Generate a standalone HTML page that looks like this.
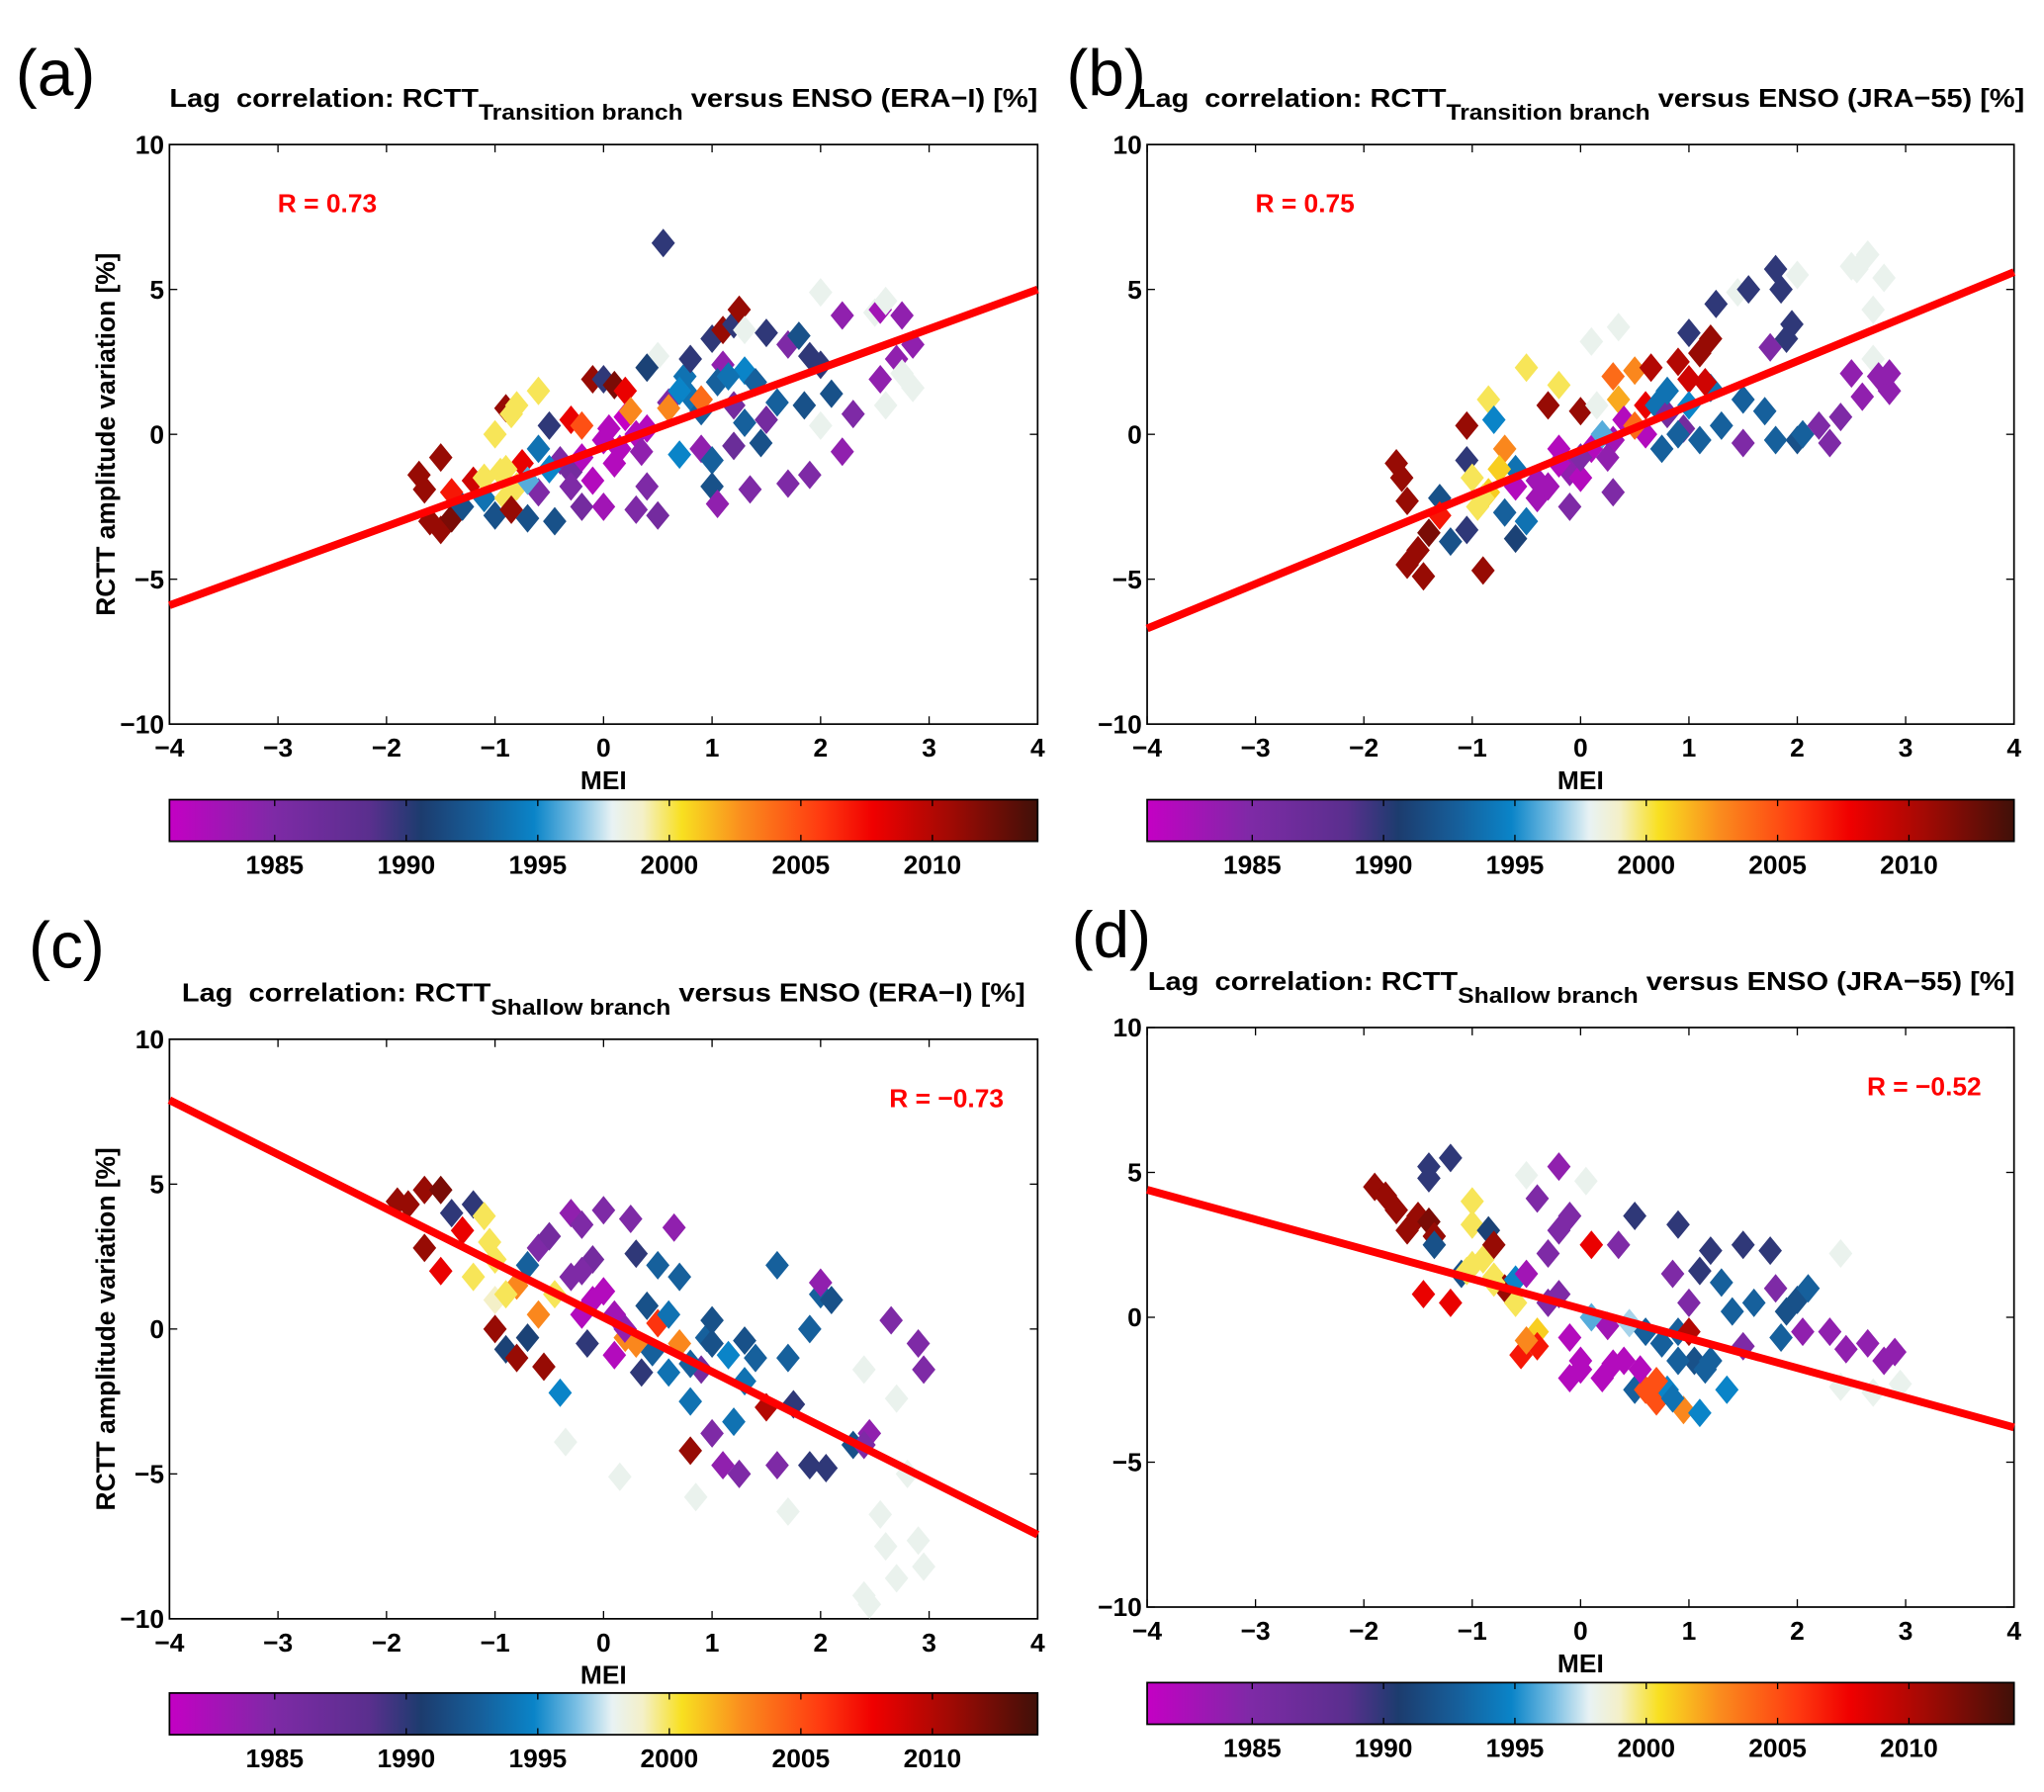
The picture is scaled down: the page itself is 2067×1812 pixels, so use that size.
<!DOCTYPE html>
<html><head><meta charset="utf-8"><style>
html,body{margin:0;padding:0;background:#fff}
svg{display:block}
text{font-family:"Liberation Sans",sans-serif}
</style></head><body>
<svg id="fig" width="2067" height="1812" viewBox="0 0 1568 1376" preserveAspectRatio="none" xmlns="http://www.w3.org/2000/svg">
<defs>
<linearGradient id="cmap" x1="0" x2="1" y1="0" y2="0">
<stop offset="0" stop-color="#c400c4"/>
<stop offset="0.12" stop-color="#7e2aa6"/>
<stop offset="0.23" stop-color="#5a2f8e"/>
<stop offset="0.29" stop-color="#1c3c6e"/>
<stop offset="0.36" stop-color="#16609c"/>
<stop offset="0.42" stop-color="#0a84c8"/>
<stop offset="0.47" stop-color="#7cc0e4"/>
<stop offset="0.51" stop-color="#e8f2f4"/>
<stop offset="0.545" stop-color="#f4f0c8"/>
<stop offset="0.59" stop-color="#f8e020"/>
<stop offset="0.66" stop-color="#fa8c1e"/>
<stop offset="0.75" stop-color="#ff3a10"/>
<stop offset="0.81" stop-color="#f00000"/>
<stop offset="0.9" stop-color="#a00a04"/>
<stop offset="1" stop-color="#401008"/>
</linearGradient>
</defs>
</svg>
<script>
// ---- data ----
const xTicks=[-4,-3,-2,-1,0,1,2,3,4];
const yTicks=[-10,-5,0,5,10];
const cbTicks=[1985,1990,1995,2000,2005,2010];
const rValues=["0.73","0.75","\u22120.73","\u22120.52"];
const fitA=[-5.9,5.0], fitB=[-6.7,5.6], fitC=[7.9,-7.1], fitD=[4.4,-3.8];

const meiA=[-1.7,-1.65,-1.5,-1.6,-1.5,-1.4,-1.3,-1.2,-1.1,-1.0,-0.9,-1.0,-0.85,-0.8,-0.6,-0.95,-0.8,-0.9,-0.7,-0.85,-0.75,-0.5,-0.3,-0.4,-0.3,-0.2,-0.45,-0.6,-0.1,0.0,0.1,0.2,0.05,0.15,0.3,-0.1,0.0,0.3,0.5,0.4,0.6,0.5,0.55,0.4,0.75,0.8,0.8,0.9,1.0,1.1,1.2,1.25,1.3,1.1,1.05,1.2,1.2,1.0,1.0,1.05,1.5,1.3,1.5,1.45,1.35,1.7,1.8,1.9,2.0,1.6,1.85,1.7,1.9,2.1,2.0,2.2,2.0,2.3,2.2,2.5,2.55,2.6,2.75,2.85,2.7,2.55,2.6,2.75,2.85,-1.4,-0.6,0.2,0.4,0.7,0.6,-0.2,-1.1,-0.9,-0.7,-0.3,-0.2,0.1,0.25,0.35,0.7,0.9,1.15,1.4,-0.5,0.0,0.9,1.3];
const valA=[-1.4,-1.9,-0.8,-3.0,-3.3,-2.9,-2.5,-1.6,-2.2,-2.8,0.9,0.0,0.7,1.0,1.5,-1.3,-1.8,-2.2,-2.9,-2.6,-1.0,0.3,0.5,-0.9,-1.3,-2.5,-3.0,-2.0,1.9,1.9,1.7,1.5,0.2,-0.5,0.0,-1.6,-2.5,-2.6,-2.8,-1.8,1.1,2.7,6.6,2.3,2.0,2.6,1.3,-0.5,3.3,3.6,3.8,4.3,3.6,2.4,1.8,1.0,-0.4,-0.9,-1.8,-2.4,3.5,2.2,0.5,-0.3,-1.9,3.1,3.4,2.7,2.4,1.1,1.0,-1.7,-1.4,1.4,4.9,4.1,0.3,0.7,-0.6,4.2,4.3,4.6,4.1,3.1,2.6,1.9,1.0,2.1,1.6,-2.0,-0.5,0.6,0.2,-0.7,0.9,0.3,-1.5,-1.2,-1.6,-1.8,-0.8,-1.0,0.8,-0.6,1.5,0.8,2.0,1.8,-1.2,-0.2,1.2,0.4];
const yearA=[2011,2011,2011,2011,2011,2012,1992,2009,1994,1992,2011,2000,2000,2000,2000,2000,2000,2000,1992,2011,2008,1990,2008,1985,1986,1986,1992,1985,2011,1990,2012,2008,1982,1982,1982,1982,1983,1985,1986,1985,1985,1998,1990,1991,1994,1990,1994,1984,1990,2011,1990,2011,1998,1984,1993,1986,1987,1993,1992,1984,1990,1995,1986,1992,1985,1985,1992,1990,1990,1993,1992,1985,1985,1992,1998,1984,1998,1985,1984,1998,1983,1998,1984,1984,1984,1984,1998,1998,1998,2007,1994,1981,1982,1995,2003,2005,2000,2000,1996,1985,1982,1982,2003,1984,1995,1993,1994,1993,1995,1982,2004,1993];

const meiB=[-1.7,-1.65,-1.6,-1.6,-1.45,-1.5,-1.4,-1.3,-1.2,-1.05,-1.05,-1.05,-0.9,-1.0,-0.95,-0.85,-0.7,-0.6,-0.6,-0.5,-0.85,-0.8,-0.7,-0.5,-0.4,-0.3,-0.2,-0.2,-0.1,-0.1,0.0,0.0,0.1,0.1,0.15,0.3,0.35,0.3,0.3,0.35,0.5,0.6,0.6,0.65,0.7,0.75,0.8,0.9,0.95,1.0,1.0,1.1,1.1,1.2,1.2,1.25,1.3,1.45,1.5,1.5,1.55,1.7,1.75,1.8,1.85,1.9,1.95,2.0,2.0,1.8,2.05,2.2,2.3,2.4,2.5,2.55,2.65,2.7,2.8,2.7,2.5,2.6,2.75,2.85,2.85,-1.3,-0.3,-0.9,-0.6,-0.4,-0.2,0.0,0.2,0.4,0.5,0.8,1.0,1.15,-0.75,0.25,0.9];
const valB=[-1.0,-1.5,-2.3,-4.5,-4.9,-4.0,-3.4,-2.2,-3.7,-3.3,-0.9,0.3,-4.7,-1.5,-2.5,-2.0,-2.7,-3.6,-1.2,2.3,1.2,0.5,-0.5,-3.0,-2.2,1.0,1.7,-0.5,-1.3,-2.5,0.8,-1.5,-0.5,3.2,1.0,2.0,1.2,-0.2,-2.0,3.7,2.2,1.0,0.0,2.3,1.0,-0.5,0.7,2.5,0.2,1.9,3.5,2.8,-0.2,3.3,1.6,4.5,0.3,4.9,1.2,-0.3,5.0,0.8,3.0,5.7,5.0,3.3,3.8,5.5,-0.2,-0.2,0.0,0.3,-0.3,0.6,5.8,5.7,6.2,4.3,5.4,2.6,2.1,1.3,2.0,1.5,2.1,-2.8,-1.8,-2.2,-1.8,-1.6,-1.0,-0.8,0.0,0.5,0.3,1.5,1.0,1.8,-1.2,-0.8,0.0];
const yearB=[2011,2011,2011,2011,2011,2011,2012,1992,1992,1990,1990,2011,2011,2000,2000,2001,1993,1991,1994,2000,2000,1995,2003,1994,1983,2011,2000,1982,1984,1985,2011,1982,1982,1998,1998,2004,2002,1983,1985,1998,2003,2008,1982,2010,1994,1993,1986,2010,1986,2009,1990,2011,1993,2011,1994,1990,1993,1998,1993,1985,1990,1993,1985,1990,1990,1990,1990,1998,1992,1993,1993,1985,1985,1985,1998,1998,1998,1998,1998,1998,1984,1984,1984,1984,1984,2007,1983,2000,1982,1983,1982,1985,1996,1982,2004,1994,1995,2009,2001,1984,1993];

const meiC=[-1.9,-1.8,-1.65,-1.5,-1.65,-1.5,-1.4,-1.2,-1.1,-1.05,-1.0,-1.2,-1.3,-1.0,-0.9,-1.0,-0.8,-0.7,-0.7,-0.6,-0.5,-0.45,-0.4,-0.55,-0.35,-0.3,-0.2,-0.2,-0.15,-0.1,0.0,0.0,0.1,0.15,0.2,0.25,0.3,0.35,0.4,0.5,0.6,0.65,0.7,0.7,0.8,0.8,0.85,0.9,0.95,1.0,1.0,1.1,1.15,1.2,1.25,1.3,1.4,1.5,1.6,1.6,1.7,1.75,1.7,1.9,2.0,2.0,1.9,2.05,2.1,2.3,2.45,2.4,2.4,2.45,2.55,2.6,2.7,2.7,2.65,2.4,2.8,2.9,2.95,2.9,2.95,-0.8,0.5,0.1,-0.9,-0.6,-0.3,-0.1,0.2,0.45,0.6,0.8,1.0,1.3,0.3,-0.2];
const valC=[4.4,4.3,4.8,4.8,2.8,2.0,4.0,4.3,3.9,3.0,2.4,1.8,3.4,1.0,-0.7,0.0,-1.0,-0.3,2.2,2.8,3.2,1.2,-2.2,-1.3,-3.9,4.0,3.6,0.5,-0.5,2.4,4.1,1.3,-0.9,-5.1,-0.3,3.8,2.6,-1.5,0.8,2.2,-1.5,3.5,1.8,-0.5,-2.5,-4.2,-5.8,-1.4,-0.3,-3.6,0.3,-4.7,-0.9,-3.2,-5.0,-0.4,-1.0,-2.7,-4.7,2.2,-1.0,-2.6,-6.3,0.0,1.2,1.6,-4.7,-4.8,1.0,-4.0,-3.6,-4.0,-9.2,-9.5,-6.4,-7.5,-8.6,-2.4,0.3,-1.4,-5.0,-7.3,-8.2,-0.5,-1.4,1.5,0.2,0.5,1.2,0.5,1.8,1.0,0.0,-0.8,0.5,-1.2,-0.5,-1.8,-0.5,2.0];
const yearC=[2011,2011,2011,2012,2011,2008,1990,1990,2000,2000,2000,2000,2008,1999,1991,2011,2011,1991,1993,1985,1986,2000,1995,2011,1998,1984,1985,1982,1990,1986,1985,1982,1982,1998,2003,1985,1990,1990,1992,1993,1994,1984,1993,2003,1994,2011,1998,1986,1993,1985,1992,1984,1995,1994,1985,1992,1993,2010,1985,1993,1993,1990,1998,1993,1993,1984,1990,1990,1992,1992,1984,1985,1998,1998,1998,1998,1998,1998,1985,1998,1998,1998,1998,1985,1985,2003,2006,1983,2000,2003,1985,1982,1984,1993,1994,1993,1992,1994,2003,1985];

const meiD=[-1.9,-1.8,-1.7,-1.6,-1.5,-1.4,-1.35,-1.4,-1.4,-1.2,-1.35,-1.45,-1.2,-1.1,-1.0,-1.0,-0.9,-1.05,-0.8,-0.85,-0.8,-0.7,-0.6,-0.5,-0.5,-0.4,-0.3,-0.3,-0.4,-0.2,-0.2,-0.1,-0.55,-0.4,-0.1,-0.1,0.0,0.05,0.1,0.1,0.2,0.35,0.4,0.45,0.5,0.5,0.6,0.6,0.7,0.75,0.8,0.85,0.9,0.9,0.95,1.0,1.05,1.1,1.1,1.2,1.2,1.3,1.35,1.4,1.5,1.5,1.6,1.75,1.8,1.85,1.9,2.0,2.05,2.1,2.3,2.4,2.45,2.4,2.65,2.7,2.8,2.9,2.95,1.0,-0.5,-1.0,-0.8,-0.2,0.0,0.3,0.55,0.7,0.9,0.85,1.15,-0.6,0.25];
const valD=[4.5,4.2,3.7,3.0,3.5,3.3,2.8,5.2,4.8,5.5,2.5,0.8,0.5,1.5,4.0,3.2,2.0,1.6,1.4,3.0,2.5,1.0,1.3,4.9,1.5,4.1,2.2,0.5,-0.5,5.2,3.0,3.5,-1.3,-1.0,-0.7,-2.1,-1.5,4.7,2.5,0.0,-2.1,2.5,-1.5,-0.2,3.5,-2.5,-0.5,-2.5,-2.9,-0.9,-2.5,1.5,3.2,-0.5,-3.2,0.5,-1.5,-3.3,1.6,2.3,-1.5,1.2,-2.5,0.2,2.5,-1.0,0.5,2.3,1.0,-0.7,0.2,0.6,-0.5,1.0,-0.5,2.2,-1.1,-2.4,-0.9,-2.6,-1.5,-1.2,-2.3,-0.5,-0.8,1.8,1.2,0.8,-1.8,-1.6,-1.8,-2.2,-1.5,-2.8,-1.8,0.5,-0.3];
const yearD=[2011,2011,2011,2011,2011,2012,2011,1990,1990,1990,1992,2008,2008,1992,2000,2000,2000,2000,2000,1991,2011,2011,1995,1998,1983,1985,1985,1985,2001,1984,1985,1985,2007,2007,1982,1982,1982,1998,2008,1996,1982,1985,1982,1997,1990,1993,1993,2005,2005,1993,1995,1985,1990,1993,2003,1985,1992,1995,1990,1990,1993,1993,1995,1993,1990,1985,1993,1990,1985,1993,1992,1992,1984,1993,1984,1998,1984,1998,1984,1998,1984,1984,1998,2010,2003,2000,2000,1985,1982,1982,1982,2005,1993,1994,1993,2000,1983];

// ---- colormap ----
const cstops=[[1981,[196,0,196]],[1985,[126,42,166]],[1988.6,[90,47,142]],[1990.6,[28,60,110]],[1993,[22,96,156]],[1995,[10,132,200]],[1996.5,[124,192,228]],[1997.8,[232,242,244]],[1999,[244,240,200]],[2000.5,[248,224,32]],[2002.8,[250,140,30]],[2005.8,[255,58,16]],[2007.8,[240,0,0]],[2010.7,[160,10,4]],[2014,[64,16,8]]];
function ycol(y){
  for(let i=0;i<cstops.length-1;i++){const a=cstops[i],b=cstops[i+1];
    if(y<=b[0]){const t=Math.max(0,(y-a[0])/(b[0]-a[0]));
      return 'rgb('+a[1].map((v,k)=>Math.round(v+(b[1][k]-v)*t)).join(',')+')';}}
  return 'rgb(64,16,8)';
}
const svg=document.getElementById('fig');
const NS='http://www.w3.org/2000/svg';
function el(tag,attrs,parent,txt){const e=document.createElementNS(NS,tag);for(const k in attrs)e.setAttribute(k,attrs[k]);if(txt!==undefined)e.textContent=txt;(parent||svg).appendChild(e);return e;}

const panels=[
 {id:'a',x0:130,x1:796,y0:111,y1:556,mei:meiA,val:valA,year:yearA,fit:fitA,r:rValues[0],rx:213,ry:163,rAnchor:'start',sub:'Transition branch',ds:'ERA\u2212I',tx:463,tw:666,ty:82,lx:12,ly:60,cbY:614,ylab:true},
 {id:'b',x0:880,x1:1545,y0:111,y1:556,mei:meiB,val:valB,year:yearB,fit:fitB,r:rValues[1],rx:963,ry:163,rAnchor:'start',sub:'Transition branch',ds:'JRA\u221255',tx:1213,tw:680,ty:82,lx:818,ly:60,cbY:614,ylab:false},
 {id:'c',x0:130,x1:796,y0:798,y1:1243,mei:meiC,val:valC,year:yearC,fit:fitC,r:rValues[2],rx:770,ry:850,rAnchor:'end',sub:'Shallow branch',ds:'ERA\u2212I',tx:463,tw:647,ty:769,lx:22,ly:730,cbY:1300,ylab:true},
 {id:'d',x0:880,x1:1545,y0:789,y1:1234,mei:meiD,val:valD,year:yearD,fit:fitD,r:rValues[3],rx:1520,ry:841,rAnchor:'end',sub:'Shallow branch',ds:'JRA\u221255',tx:1213,tw:665,ty:760,lx:822,ly:722,cbY:1292,ylab:false}
];

panels.forEach(p=>{
  const g=el('g',{});
  
  
  const sx=v=>p.x0+(v+4)/8*(p.x1-p.x0);
  const sy=v=>p.y1-(v+10)/20*(p.y1-p.y0);
  const pl=el('text',{x:p.lx,y:p.ly,'font-size':50,fill:'#000','dominant-baseline':'middle'},g,'('+p.id+')');
  
  
  const t=el('text',{x:p.tx,y:p.ty,'font-size':20,'font-weight':'bold','text-anchor':'middle',fill:'#000',textLength:p.tw,lengthAdjust:'spacingAndGlyphs','xml:space':'preserve'},g);
  
  
  el('tspan',{},t,'Lag\u00a0\u00a0correlation: RCTT');
  el('tspan',{dy:10,'font-size':17},t,p.sub);
  el('tspan',{dy:-10},t,' versus ENSO ('+p.ds+') [%]');
  const box=el('rect',{x:p.x0,y:p.y0,width:p.x1-p.x0,height:p.y1-p.y0,fill:'#fff',stroke:'#000','stroke-width':1.3},g);
  
  
  xTicks.forEach(v=>{
    const x=sx(v);
    el('line',{x1:x,x2:x,y1:p.y1,y2:p.y1-6,stroke:'#000','stroke-width':1},g);
    el('line',{x1:x,x2:x,y1:p.y0,y2:p.y0+6,stroke:'#000','stroke-width':1},g);
    const tl=el('text',{x:x,y:p.y1+25,'font-size':20,'font-weight':'bold','text-anchor':'middle'},g,v<0?'\u2212'+(-v):String(v));
    
    
  });
  yTicks.forEach(v=>{
    const y=sy(v);
    el('line',{x1:p.x0,x2:p.x0+6,y1:y,y2:y,stroke:'#000','stroke-width':1},g);
    el('line',{x1:p.x1,x2:p.x1-6,y1:y,y2:y,stroke:'#000','stroke-width':1},g);
    const tl=el('text',{x:p.x0-4,y:y+7,'font-size':20,'font-weight':'bold','text-anchor':'end'},g,v<0?'\u2212'+(-v):String(v));
    
    
  });
  const xl=el('text',{x:(p.x0+p.x1)/2,y:p.y1+50,'font-size':20,'font-weight':'bold','text-anchor':'middle'},g,'MEI');
  
  
  if(p.ylab){
    const cy=(p.y0+p.y1)/2;
    const yl=el('text',{x:88,y:cy,'font-size':20,'font-weight':'bold','text-anchor':'middle',transform:'rotate(-90 88 '+cy+')'},g,'RCTT amplitude variation [%]');
    
    
  }
  p.mei.forEach((m,i)=>{
    const x=sx(m),y=sy(p.val[i]);
    const d=el('path',{d:'M'+x+' '+(y-11)+'L'+(x+9)+' '+y+'L'+x+' '+(y+11)+'L'+(x-9)+' '+y+'Z',fill:ycol(p.year[i])},g);
    
    
  });
  const ln=el('line',{x1:sx(-4),y1:sy(p.fit[0]),x2:sx(4),y2:sy(p.fit[1]),stroke:'#f00','stroke-width':6},g);
  
  
  const rt=el('text',{x:p.rx,y:p.ry,'font-size':20,'font-weight':'bold',fill:'#f00','text-anchor':p.rAnchor},g,'R = '+p.r);
  
  
  const cb=el('rect',{x:p.x0,y:p.cbY,width:p.x1-p.x0,height:32,fill:'url(#cmap)',stroke:'#000','stroke-width':1.3},g);
  
  
  const cx=y=>p.x0+(y-1981)/(2014-1981)*(p.x1-p.x0);
  cbTicks.forEach(yr=>{
    const x=cx(yr);
    el('line',{x1:x,x2:x,y1:p.cbY,y2:p.cbY+5,stroke:'#000','stroke-width':1},g);
    el('line',{x1:x,x2:x,y1:p.cbY+32,y2:p.cbY+27,stroke:'#000','stroke-width':1},g);
    const tl=el('text',{x:x,y:p.cbY+57,'font-size':20,'font-weight':'bold','text-anchor':'middle'},g,String(yr));
    
    
  });
});
</script>
</body></html>
